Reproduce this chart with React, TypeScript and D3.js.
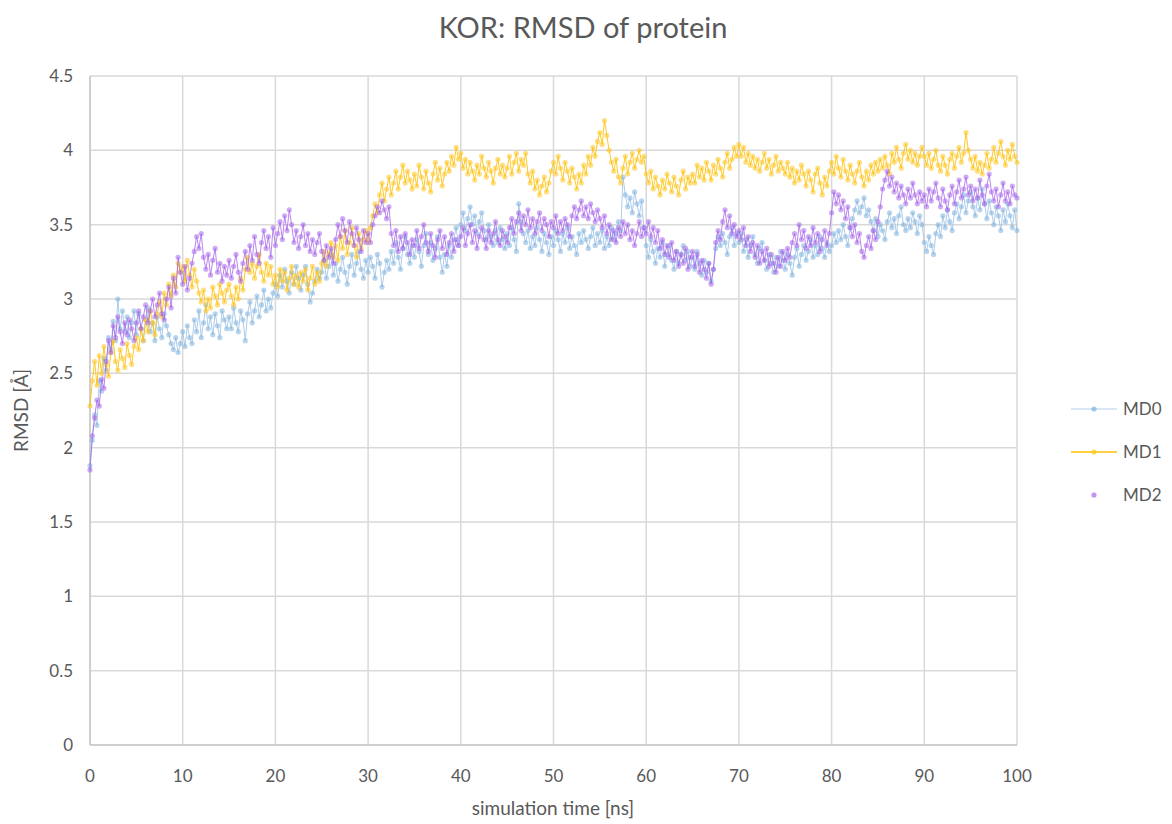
import React from "react";
import * as d3 from "d3";

const TITLE = "KOR: RMSD of protein";
const X_LABEL = "simulation time [ns]";
const Y_LABEL = "RMSD [Å]";
const SERIES_NAMES = ["MD0", "MD1", "MD2"];
const X_TICKS = [0, 10, 20, 30, 40, 50, 60, 70, 80, 90, 100];
const Y_TICKS = [0, 0.5, 1, 1.5, 2, 2.5, 3, 3.5, 4, 4.5];
const TIME_STEP = 0.25; // ns between samples

const MD0 = [
  1.88, 2.05, 2.22, 2.15, 2.45, 2.38, 2.60, 2.52, 2.74, 2.66, 2.85, 2.72, 3.00, 2.80, 2.92, 2.78, 2.88, 2.74, 2.84, 2.92,
  2.76, 2.90, 2.80, 2.72, 2.86, 2.94, 2.78, 2.84, 2.72, 2.88, 2.80, 2.74, 2.90, 2.82, 2.76, 2.70, 2.66, 2.74, 2.64, 2.70,
  2.78, 2.68, 2.82, 2.74, 2.70, 2.86, 2.78, 2.92, 2.74, 2.84, 2.96, 2.80, 2.88, 2.76, 2.90, 2.82, 2.74, 2.92, 2.86, 2.80,
  2.88, 2.80, 2.94, 2.84, 2.78, 2.92, 2.86, 2.72, 2.90, 2.98, 2.84, 2.92, 3.02, 2.88, 2.96, 3.06, 2.92, 3.00, 2.94, 3.04,
  3.10, 3.02, 3.16, 3.08, 3.20, 3.12, 3.04, 3.18, 3.10, 3.22, 3.14, 3.06, 3.16, 3.22, 3.10, 2.98, 3.04, 3.12, 3.20, 3.14,
  3.18, 3.26, 3.14, 3.22, 3.30, 3.16, 3.24, 3.12, 3.20, 3.28, 3.18, 3.10, 3.22, 3.30, 3.16, 3.24, 3.32, 3.20, 3.14, 3.26,
  3.18, 3.28, 3.22, 3.14, 3.30, 3.24, 3.08, 3.18, 3.26, 3.20, 3.32, 3.24, 3.38, 3.28, 3.20, 3.34, 3.42, 3.30, 3.24, 3.36,
  3.28, 3.40, 3.32, 3.22, 3.36, 3.44, 3.30, 3.38, 3.26, 3.34, 3.42, 3.28, 3.18, 3.30, 3.22, 3.36, 3.28, 3.40, 3.48, 3.36,
  3.50, 3.58, 3.46, 3.54, 3.62, 3.50, 3.56, 3.44, 3.52, 3.58, 3.46, 3.40, 3.50, 3.42, 3.36, 3.46, 3.38, 3.48, 3.40, 3.34,
  3.44, 3.36, 3.48, 3.40, 3.32, 3.64, 3.52, 3.44, 3.38, 3.46, 3.34, 3.42, 3.36, 3.48, 3.40, 3.32, 3.44, 3.38, 3.30, 3.42,
  3.36, 3.46, 3.40, 3.32, 3.44, 3.38, 3.48, 3.34, 3.42, 3.36, 3.30, 3.44, 3.38, 3.46, 3.40, 3.34, 3.42, 3.48, 3.36, 3.44,
  3.38, 3.46, 3.34, 3.42, 3.36, 3.48, 3.40, 3.44, 3.52, 3.46, 3.82, 3.70, 3.62, 3.68, 3.58, 3.72, 3.64, 3.56, 3.66, 3.48,
  3.36, 3.28, 3.40, 3.32, 3.24, 3.34, 3.28, 3.38, 3.22, 3.30, 3.36, 3.26, 3.20, 3.32, 3.24, 3.30, 3.36, 3.26, 3.32, 3.22,
  3.28, 3.20, 3.32, 3.24, 3.16, 3.26, 3.18, 3.24, 3.12, 3.20, 3.34, 3.42, 3.36, 3.44, 3.38, 3.30, 3.42, 3.48, 3.36, 3.44,
  3.38, 3.44, 3.32, 3.40, 3.28, 3.36, 3.42, 3.30, 3.24, 3.34, 3.38, 3.26, 3.20, 3.30, 3.24, 3.18, 3.28, 3.22, 3.32, 3.26,
  3.20, 3.30, 3.24, 3.16, 3.28, 3.34, 3.22, 3.30, 3.36, 3.26, 3.32, 3.40, 3.28, 3.36, 3.30, 3.42, 3.34, 3.28, 3.38, 3.32,
  3.36, 3.44, 3.38, 3.46, 3.40, 3.50, 3.42, 3.36, 3.48, 3.54, 3.60, 3.66, 3.58, 3.62, 3.68, 3.56, 3.60, 3.52, 3.46, 3.54,
  3.42, 3.50, 3.46, 3.40, 3.52, 3.58, 3.48, 3.54, 3.44, 3.56, 3.62, 3.50, 3.46, 3.54, 3.48, 3.58, 3.52, 3.44, 3.56, 3.50,
  3.38, 3.32, 3.42, 3.36, 3.30, 3.44, 3.50, 3.42, 3.56, 3.48, 3.60, 3.52, 3.46, 3.58, 3.64, 3.54, 3.62, 3.70, 3.58, 3.66,
  3.72, 3.62, 3.56, 3.68, 3.60, 3.74, 3.64, 3.54, 3.66, 3.58, 3.50, 3.62, 3.56, 3.46, 3.60, 3.52, 3.64, 3.56, 3.48, 3.60,
  3.46,
];

const MD1 = [
  2.28, 2.45, 2.58, 2.42, 2.62, 2.50, 2.68, 2.56, 2.48, 2.64, 2.72, 2.58, 2.52, 2.66, 2.60, 2.54, 2.70, 2.62, 2.56, 2.68,
  2.74, 2.66, 2.80, 2.72, 2.86, 2.78, 2.92, 2.84, 2.76, 2.90, 2.98, 2.88, 3.04, 2.96, 3.10, 3.02, 3.16, 3.08, 3.24, 3.18,
  3.22, 3.12, 3.26, 3.16, 3.08, 3.20, 3.12, 3.04, 2.98, 3.06, 2.92, 3.00, 2.94, 3.08, 3.02, 2.96, 3.10, 3.04, 2.98, 3.06,
  3.10, 3.02, 2.96, 3.08, 3.00, 3.14, 3.06, 3.20, 3.28, 3.18, 3.24, 3.14, 3.22, 3.30, 3.18, 3.12, 3.24, 3.16, 3.22, 3.10,
  3.16, 3.08, 3.20, 3.12, 3.18, 3.06, 3.14, 3.22, 3.10, 3.16, 3.08, 3.18, 3.12, 3.20, 3.06, 3.14, 3.22, 3.10, 3.18, 3.12,
  3.24, 3.32, 3.22, 3.30, 3.38, 3.28, 3.36, 3.26, 3.42, 3.34, 3.46, 3.30, 3.38, 3.48, 3.36, 3.28, 3.44, 3.34, 3.40, 3.46,
  3.38, 3.48, 3.56, 3.64, 3.58, 3.70, 3.78, 3.66, 3.74, 3.82, 3.70, 3.78, 3.86, 3.74, 3.82, 3.90, 3.78, 3.86, 3.80, 3.74,
  3.84, 3.76, 3.90, 3.82, 3.74, 3.86, 3.78, 3.72, 3.84, 3.92, 3.80, 3.88, 3.76, 3.84, 3.92, 3.86, 3.96, 3.90, 4.02, 3.94,
  3.98, 3.88, 3.94, 3.84, 3.92, 3.86, 3.80, 3.90, 3.84, 3.96, 3.88, 3.82, 3.92, 3.86, 3.78, 3.88, 3.94, 3.84, 3.90, 3.82,
  3.88, 3.96, 3.84, 3.92, 3.98, 3.86, 3.94, 3.90, 3.98, 3.84, 3.78, 3.86, 3.74, 3.80, 3.70, 3.76, 3.82, 3.72, 3.78, 3.86,
  3.92, 3.84, 3.96, 3.88, 3.80, 3.92, 3.86, 3.78, 3.88, 3.82, 3.74, 3.84, 3.78, 3.90, 3.84, 3.96, 3.90, 4.02, 3.96, 4.06,
  4.12, 4.04, 4.20, 4.10, 4.00, 3.92, 3.86, 3.94, 3.82, 3.78, 3.88, 3.96, 3.84, 3.92, 3.98, 3.88, 3.94, 4.00, 3.92, 3.96,
  3.84, 3.78, 3.86, 3.74, 3.82, 3.76, 3.70, 3.80, 3.74, 3.84, 3.78, 3.72, 3.82, 3.76, 3.70, 3.80, 3.86, 3.74, 3.82, 3.78,
  3.84, 3.78, 3.90, 3.82, 3.88, 3.80, 3.92, 3.86, 3.80, 3.90, 3.84, 3.94, 3.88, 3.82, 3.92, 3.98, 3.88, 3.94, 4.02, 3.96,
  4.04, 3.96, 4.02, 3.92, 3.98, 3.90, 3.96, 3.88, 3.94, 3.86, 3.92, 3.98, 3.88, 3.94, 3.84, 3.90, 3.96, 3.86, 3.92, 3.88,
  3.84, 3.92, 3.82, 3.88, 3.78, 3.86, 3.80, 3.90, 3.84, 3.76, 3.86, 3.80, 3.72, 3.84, 3.88, 3.78, 3.70, 3.82, 3.76, 3.86,
  3.92, 3.84, 3.96, 3.88, 3.82, 3.94, 3.86, 3.80, 3.90, 3.84, 3.78, 3.86, 3.92, 3.82, 3.76, 3.86, 3.80, 3.90, 3.84, 3.92,
  3.86, 3.94, 3.88, 3.96, 3.90, 3.84, 3.98, 3.92, 4.02, 3.94, 3.88, 3.98, 4.04, 3.94, 4.00, 3.92, 3.98, 3.90, 3.96, 4.02,
  3.96, 3.90, 3.98, 3.88, 3.94, 4.00, 3.90, 3.86, 3.96, 3.90, 3.84, 3.94, 3.98, 3.88, 3.96, 4.02, 3.92, 3.98, 4.12, 4.00,
  3.94, 3.88, 3.96, 3.86, 3.92, 3.84, 3.90, 3.98, 3.88, 3.94, 4.02, 3.92, 3.98, 4.06, 3.96, 3.90, 4.00, 3.94, 4.04, 3.96,
  3.92,
];

const MD2 = [
  1.85, 2.08, 2.20, 2.32, 2.28, 2.46, 2.40, 2.58, 2.72, 2.64, 2.82, 2.74, 2.88, 2.78, 2.70, 2.84, 2.76, 2.86, 2.80, 2.72,
  2.84, 2.92, 2.80, 2.88, 2.96, 2.84, 2.92, 3.00, 2.88, 2.96, 3.04, 2.90, 2.86, 3.00, 3.08, 2.94, 3.14, 3.04, 3.28, 3.18,
  3.10, 3.22, 3.06, 3.14, 3.24, 3.32, 3.42, 3.34, 3.44, 3.28, 3.20, 3.30, 3.16, 3.26, 3.34, 3.18, 3.24, 3.12, 3.22, 3.16,
  3.26, 3.14, 3.22, 3.30, 3.18, 3.12, 3.24, 3.32, 3.20, 3.36, 3.26, 3.42, 3.30, 3.24, 3.38, 3.46, 3.34, 3.42, 3.28, 3.48,
  3.36, 3.44, 3.52, 3.40, 3.56, 3.46, 3.60, 3.50, 3.38, 3.46, 3.34, 3.42, 3.50, 3.36, 3.44, 3.32, 3.40, 3.30, 3.38, 3.44,
  3.32, 3.26, 3.36, 3.28, 3.34, 3.24, 3.40, 3.50, 3.42, 3.54, 3.46, 3.38, 3.52, 3.44, 3.36, 3.48, 3.40, 3.32, 3.46, 3.38,
  3.44, 3.38, 3.50, 3.56, 3.62, 3.58, 3.66, 3.60, 3.54, 3.62, 3.44, 3.36, 3.46, 3.32, 3.42, 3.34, 3.44, 3.38, 3.30, 3.40,
  3.36, 3.46, 3.34, 3.42, 3.50, 3.38, 3.32, 3.44, 3.36, 3.28, 3.40, 3.46, 3.34, 3.42, 3.30, 3.38, 3.44, 3.32, 3.40, 3.36,
  3.42, 3.48, 3.36, 3.44, 3.50, 3.38, 3.46, 3.34, 3.42, 3.48, 3.40, 3.34, 3.46, 3.38, 3.44, 3.52, 3.40, 3.36, 3.46, 3.42,
  3.38, 3.48, 3.54, 3.44, 3.52, 3.58, 3.46, 3.56, 3.50, 3.60, 3.48, 3.54, 3.44, 3.52, 3.58, 3.46, 3.54, 3.50, 3.42, 3.52,
  3.48, 3.56, 3.44, 3.52, 3.46, 3.54, 3.50, 3.42, 3.56, 3.62, 3.54, 3.60, 3.66, 3.56, 3.62, 3.54, 3.64, 3.58, 3.52, 3.60,
  3.54, 3.48, 3.56, 3.44, 3.50, 3.40, 3.46, 3.38, 3.48, 3.42, 3.52, 3.44, 3.50, 3.40, 3.46, 3.36, 3.44, 3.52, 3.42, 3.48,
  3.44, 3.52, 3.42, 3.48, 3.38, 3.46, 3.34, 3.40, 3.30, 3.36, 3.28, 3.38, 3.26, 3.32, 3.22, 3.30, 3.24, 3.34, 3.20, 3.28,
  3.32, 3.22, 3.30, 3.18, 3.26, 3.20, 3.14, 3.24, 3.10, 3.20, 3.38, 3.46, 3.40, 3.52, 3.60, 3.48, 3.56, 3.44, 3.50, 3.42,
  3.46, 3.40, 3.48, 3.36, 3.42, 3.32, 3.38, 3.28, 3.36, 3.24, 3.32, 3.26, 3.34, 3.22, 3.30, 3.24, 3.18, 3.28, 3.22, 3.32,
  3.26, 3.34, 3.28, 3.38, 3.44, 3.36, 3.50, 3.40, 3.46, 3.34, 3.42, 3.36, 3.48, 3.38, 3.44, 3.32, 3.40, 3.46, 3.36, 3.44,
  3.58, 3.72, 3.64, 3.70, 3.60, 3.66, 3.54, 3.62, 3.48, 3.42, 3.50, 3.38, 3.44, 3.32, 3.28, 3.36, 3.42, 3.34, 3.46, 3.40,
  3.52, 3.62, 3.74, 3.80, 3.86, 3.76, 3.82, 3.72, 3.78, 3.68, 3.76, 3.70, 3.64, 3.74, 3.68, 3.78, 3.70, 3.64, 3.72, 3.66,
  3.70, 3.62, 3.74, 3.66, 3.72, 3.78, 3.68, 3.62, 3.74, 3.66, 3.60, 3.70, 3.76, 3.64, 3.72, 3.80, 3.68, 3.74, 3.82, 3.70,
  3.76, 3.66, 3.74, 3.68, 3.80, 3.70, 3.64, 3.76, 3.84, 3.72, 3.66, 3.74, 3.62, 3.70, 3.78, 3.66, 3.72, 3.64, 3.76, 3.70,
  3.68,
];

const SERIES_VALUES = [MD0, MD1, MD2];
const LINE_COLORS = ["#9dc3e6", "#ffc000", "#a35ee8"];
const MARKER_COLORS = ["#7fb2de", "#ffc51f", "#a866ea"];

const W = 1172;
const H = 824;
const M = { left: 90, right: 155, top: 76, bottom: 79 };
const FONT = "Lato, 'Open Sans', sans-serif";
const TEXT_COLOR = "#595959";

export default function App() {
  const x = d3.scaleLinear().domain([0, 100]).range([M.left, W - M.right]);
  const y = d3.scaleLinear().domain([0, 4.5]).range([H - M.bottom, M.top]);

  const series = SERIES_VALUES.map((vals) =>
    vals.map((v, i) => ({ t: i * TIME_STEP, v }))
  );
  const line = d3
    .line<{ t: number; v: number }>()
    .x((d) => x(d.t))
    .y((d) => y(d.v));

  const legendY = [409, 452, 495];

  return (
    <div style={{ position: "absolute", left: 0, top: 0 }}>
      <svg width={W} height={H} style={{ display: "block", background: "#fff" }}>
        {X_TICKS.map((t) => (
          <line key={"gx" + t} x1={x(t)} x2={x(t)} y1={y(0)} y2={y(4.5)} stroke="#d9d9d9" strokeWidth={1.5} />
        ))}
        {Y_TICKS.map((t) => (
          <line key={"gy" + t} x1={x(0)} x2={x(100)} y1={y(t)} y2={y(t)} stroke="#d9d9d9" strokeWidth={1.5} />
        ))}
        <line x1={x(0)} x2={x(0)} y1={y(0)} y2={y(4.5)} stroke="#c8c8c8" strokeWidth={1.5} />
        <line x1={x(0)} x2={x(100)} y1={y(0)} y2={y(0)} stroke="#c8c8c8" strokeWidth={1.5} />

        {series.map((s, si) => (
          <g key={"s" + si}>
            <path d={line(s) || ""} fill="none" stroke={LINE_COLORS[si]} strokeWidth={1} strokeOpacity={si === 2 ? 0.75 : 0.85} />
            {s.map((d, i) => (
              <circle key={i} cx={x(d.t)} cy={y(d.v)} r={2.6} fill={MARKER_COLORS[si]} fillOpacity={0.55} />
            ))}
          </g>
        ))}

        {X_TICKS.map((t) => (
          <text key={"tx" + t} x={x(t)} y={782} textAnchor="middle" fontFamily={FONT} fontSize={17} fill={TEXT_COLOR}>
            {t}
          </text>
        ))}
        {Y_TICKS.map((t) => (
          <text key={"ty" + t} x={73} y={y(t) + 6} textAnchor="end" fontFamily={FONT} fontSize={17} fill={TEXT_COLOR}>
            {t}
          </text>
        ))}

        <text x={583} y={38} textAnchor="middle" fontFamily={FONT} fontSize={29} fill={TEXT_COLOR}>
          {TITLE}
        </text>
        <text x={553} y={815} textAnchor="middle" fontFamily={FONT} fontSize={19} fill={TEXT_COLOR}>
          {X_LABEL}
        </text>
        <text transform={`translate(28, ${y(2.25)}) rotate(-90)`} textAnchor="middle" fontFamily={FONT} fontSize={19} fill={TEXT_COLOR}>
          {Y_LABEL}
        </text>

        {SERIES_NAMES.map((name, i) => (
          <g key={"lg" + name}>
            {i < 2 && (
              <line x1={1071} x2={1117} y1={legendY[i]} y2={legendY[i]} stroke={LINE_COLORS[i]} strokeWidth={i === 0 ? 1 : 1.5} strokeOpacity={i === 0 ? 0.8 : 1} />
            )}
            <circle cx={1094} cy={legendY[i]} r={2.6} fill={MARKER_COLORS[i]} fillOpacity={0.7} />
            <text x={1123} y={legendY[i] + 6} fontFamily={FONT} fontSize={17} fill={TEXT_COLOR}>
              {name}
            </text>
          </g>
        ))}
      </svg>
    </div>
  );
}
